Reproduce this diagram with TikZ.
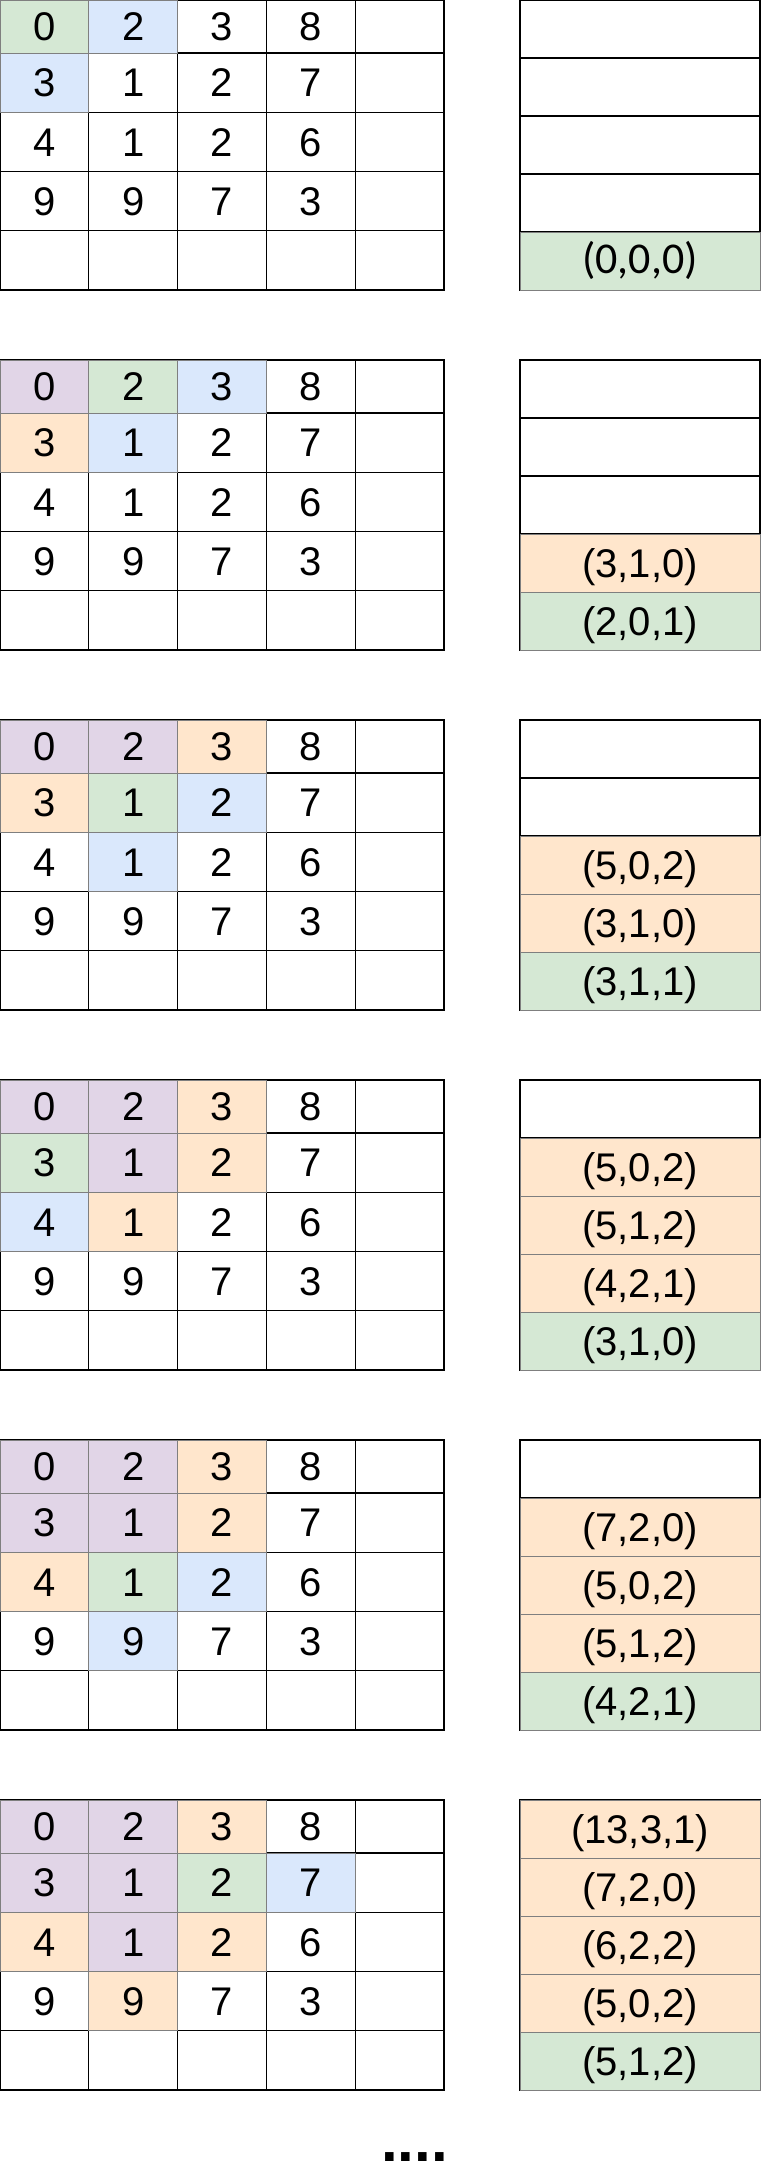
\documentclass[tikz,border=0pt]{standalone}
\usepackage{fontspec}
\setmainfont{Liberation Sans}
\newfontfamily\carlito{Carlito}

\definecolor{cellgreen}{HTML}{D5E8D4}
\definecolor{cellblue}{HTML}{DAE8FC}
\definecolor{cellpurple}{HTML}{E1D5E7}
\definecolor{cellorange}{HTML}{FFE6CC}
\definecolor{cellline}{HTML}{7F7F7F}

\begin{document}
\begin{tikzpicture}[x=1pt,y=-1pt]

    \tikzstyle{rule}=[draw=black, line width=1.2pt]
    \tikzstyle{tint}=[draw=cellline, line width=1pt]
    \tikzstyle{num}=[inner sep=0pt, text height=28.6pt, text depth=0pt, font=\fontsize{40}{48}\selectfont]
    \tikzstyle{calnum}=[inner sep=0pt, text height=27.8pt, text depth=2pt, font=\carlito\fontsize{44}{52}\selectfont]

    \useasboundingbox (0,0) rectangle (761,2177);

    % grid and stack outlines, one block every 360
    \foreach \blk [evaluate=\blk as \top using \blk*360] in {0,...,5} {
        \draw[rule] (0,\top) rectangle (444,\top+290);
        \foreach \x in {88.8,177.6,266.4,355.2}
            \draw[rule] (\x,\top) -- (\x,\top+290);
        \foreach \y in {53,112.25,171.5,230.75}
            \draw[rule] (0,\top+\y) -- (444,\top+\y);
        \draw[rule] (520,\top) rectangle (760,\top+290);
        \foreach \y in {58,116,174,232}
            \draw[rule] (520,\top+\y) -- (760,\top+\y);
    }

    % shaded grid cells: block/row/col/colour
    \foreach \blk/\r/\c/\col in {0/1/1/cellgreen, 0/1/2/cellblue, 0/2/1/cellblue,
            1/1/1/cellpurple, 1/1/2/cellgreen, 1/1/3/cellblue, 1/2/1/cellorange, 1/2/2/cellblue,
            2/1/1/cellpurple, 2/1/2/cellpurple, 2/1/3/cellorange, 2/2/1/cellorange,
            2/2/2/cellgreen, 2/2/3/cellblue, 2/3/2/cellblue,
            3/1/1/cellpurple, 3/1/2/cellpurple, 3/1/3/cellorange, 3/2/1/cellgreen,
            3/2/2/cellpurple, 3/2/3/cellorange, 3/3/1/cellblue, 3/3/2/cellorange,
            4/1/1/cellpurple, 4/1/2/cellpurple, 4/1/3/cellorange, 4/2/1/cellpurple,
            4/2/2/cellpurple, 4/2/3/cellorange, 4/3/1/cellorange, 4/3/2/cellgreen,
            4/3/3/cellblue, 4/4/2/cellblue,
            5/1/1/cellpurple, 5/1/2/cellpurple, 5/1/3/cellorange, 5/2/1/cellpurple,
            5/2/2/cellpurple, 5/2/3/cellgreen, 5/2/4/cellblue, 5/3/1/cellorange,
            5/3/2/cellpurple, 5/3/3/cellorange, 5/4/2/cellorange} {
        \pgfmathsetmacro\ya{\blk*360 + (\r==1 ? 0 : 53+(\r-2)*59.25)}
        \pgfmathsetmacro\yb{\blk*360 + 53 + (\r-1)*59.25}
        \filldraw[tint, fill=\col] ({(\c-1)*88.8},\ya) rectangle ({\c*88.8},\yb);
    }

    % shaded stack slots: block/slot/colour
    \foreach \blk/\k/\col in {0/5/cellgreen, 1/4/cellorange, 1/5/cellgreen,
            2/3/cellorange, 2/4/cellorange, 2/5/cellgreen,
            3/2/cellorange, 3/3/cellorange, 3/4/cellorange, 3/5/cellgreen,
            4/2/cellorange, 4/3/cellorange, 4/4/cellorange, 4/5/cellgreen,
            5/1/cellorange, 5/2/cellorange, 5/3/cellorange, 5/4/cellorange, 5/5/cellgreen}
        \filldraw[tint, fill=\col] (520,{\blk*360+(\k-1)*58}) rectangle (760,{\blk*360+\k*58});

    % grid numbers
    \foreach \blk in {0,...,5}
        \foreach \r/\vals in {1/{0,2,3,8}, 2/{3,1,2,7}, 3/{4,1,2,6}, 4/{9,9,7,3}}
            \foreach \v [count=\c] in \vals {
                \pgfmathsetmacro\yc{\blk*360 + (\r==1 ? 26.5 : 53+(\r-2)*59.25+29.6)}
                \node[num] (n\blk-\r-\c) at ({(\c-0.5)*88.8},\yc) {\v};
            }

    % stack entries
    \node[calnum] (s0-5) at (640,261) {(0,0,0)};
    \foreach \blk/\k/\txt in {1/4/{(3,1,0)}, 1/5/{(2,0,1)},
            2/3/{(5,0,2)}, 2/4/{(3,1,0)}, 2/5/{(3,1,1)},
            3/2/{(5,0,2)}, 3/3/{(5,1,2)}, 3/4/{(4,2,1)}, 3/5/{(3,1,0)},
            4/2/{(7,2,0)}, 4/3/{(5,0,2)}, 4/4/{(5,1,2)}, 4/5/{(4,2,1)},
            5/1/{(13,3,1)}, 5/2/{(7,2,0)}, 5/3/{(6,2,2)}, 5/4/{(5,0,2)}, 5/5/{(5,1,2)}}
        \node[num] (s\blk-\k) at (640,{\blk*360+(\k-0.5)*58}) {\txt};

    \node[font=\bfseries\fontsize{60}{60}\selectfont, anchor=base west, inner sep=0pt] (more) at (381,2161) {....};

\end{tikzpicture}
\end{document}
